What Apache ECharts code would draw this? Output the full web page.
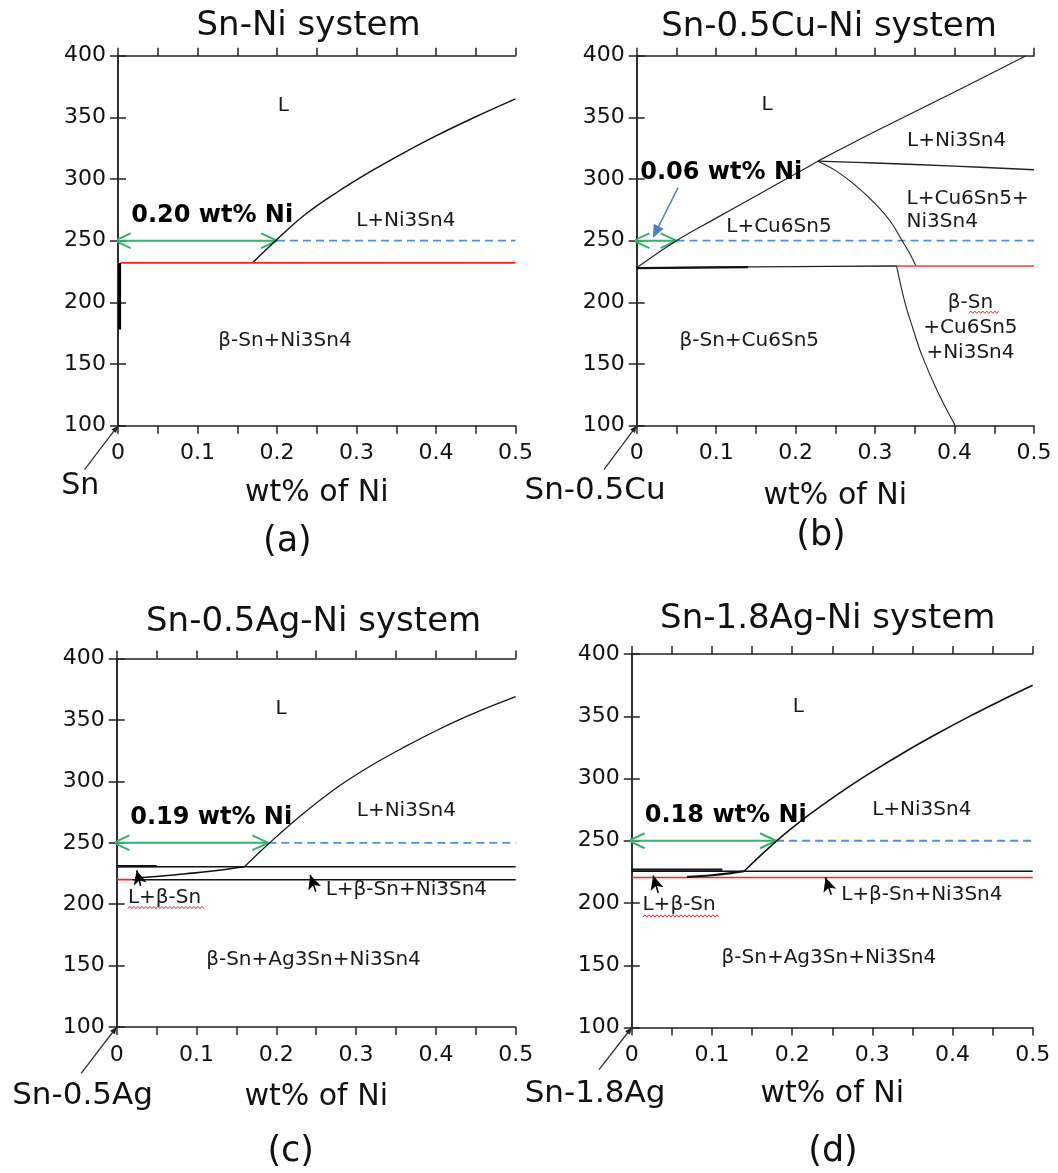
<!DOCTYPE html>
<html><head><meta charset="utf-8">
<script src="https://cdn.jsdelivr.net/npm/echarts@6/dist/echarts.min.js"></script>
<style>html,body{margin:0;padding:0;background:#fff}#c{width:1058px;height:1173px}</style>
</head><body><div id="c"></div><script>
// ---------------- DATA ----------------
const titles = ['Sn-Ni system', 'Sn-0.5Cu-Ni system', 'Sn-0.5Ag-Ni system', 'Sn-1.8Ag-Ni system'];
const baseNames = ['Sn', 'Sn-0.5Cu', 'Sn-0.5Ag', 'Sn-1.8Ag'];
const subLabels = ['(a)', '(b)', '(c)', '(d)'];
const xAxisName = 'wt% of Ni';
const xRange = [0, 0.5];
const yRange = [100, 400];
const solubility = [0.20, 0.05, 0.19, 0.18];   // where the 250 C line meets the liquidus
const solubilityText = ['0.20 wt% Ni', '0.06 wt% Ni', '0.19 wt% Ni', '0.18 wt% Ni'];
const refTemp = 250;

// (a) Sn-Ni
const aLiquidus = [[0.169,232],[0.20,251],[0.235,271],[0.276,289.5],[0.32,307],[0.36,321.5],[0.40,335],[0.45,350.5],[0.5,365]];
const aEutectic = [[0.003,232],[0.5,232]];
const aSnSolid = [[0.002,232],[0.002,178]];

// (b) Sn-0.5Cu-Ni
const bLiqCu = [[0,228],[0.05,250],[0.10,268.3],[0.15,286.3],[0.20,304.3],[0.228,314.5]];
const bLiqNi = [[0.228,314.5],[0.30,338.5],[0.40,370.5],[0.49,400]];
const bTriTop = [[0.228,314.5],[0.30,313],[0.40,310.5],[0.5,307.5]];
const bTriLeft = [[0.228,314.5],[0.25,307],[0.275,295],[0.30,280],[0.32,265],[0.335,249],[0.345,238],[0.351,230]];
const bEutBlack = [[0,227.8],[0.1,228.5],[0.2,229],[0.327,229.5]];
const bEutBlackThick = [[0,227.8],[0.14,228.6]];
const bEutRed = [[0.327,229.5],[0.5,229.5]];
const bSolvus = [[0.327,229.5],[0.3375,200],[0.348,178],[0.359,157],[0.378,128.6],[0.401,100]];
const bNoteArrow = [[0.052,293],[0.024,257]];

// (c) Sn-0.5Ag-Ni
const cLiquidus = [[0.16,230.5],[0.1925,250.5],[0.235,274.5],[0.277,295.5],[0.319,313],[0.362,328.5],[0.404,342.5],[0.446,355],[0.5,369]];
const cUpper = [[0,230.5],[0.5,230.5]];
const cUpperThick = [[0,231],[0.05,231]];
const cLowerBlack = [[0.019,220],[0.5,220]];
const cLowerRed = [[0,220],[0.019,220]];
const cSnCurve = [[0.023,221.5],[0.05,222.6],[0.087,224.8],[0.12,227],[0.16,230.5]];
const cPointers = [[[0.030,215],[0.025,227.5]], [[0.2496,210.2],[0.2424,223.8]]];

// (d) Sn-1.8Ag-Ni
const dLiquidus = [[0.14,225.5],[0.18,249.5],[0.22,270.3],[0.26,288.7],[0.30,305.5],[0.34,321.1],[0.38,335.7],[0.42,349.5],[0.46,362.5],[0.5,374.9]];
const dUpper = [[0,225.5],[0.5,225.5]];
const dUpperThick = [[0,226.8],[0.113,226.8]];
const dRed = [[0,220.5],[0.5,220.5]];
const dSnCurve = [[0.069,221],[0.1,222.3],[0.124,224],[0.14,225.5]];
const dPointers = [[[0.033,208],[0.0266,222]], [[0.2487,206.6],[0.2416,220.5]]];

// base-alloy pointer lines (outer end -> origin)
const basePointers = [[[-0.0421,64.4],[0,100]], [[-0.0412,64.4],[0,100]], [[-0.0446,62.3],[0,100]], [[-0.0409,66.2],[0,100]]];

// region labels
const aLabels = [['L',0.208,359.6],['L+Ni3Sn4',0.362,266.4],['β-Sn+Ni3Sn4',0.210,169]];
const bLabels = [['L',0.164,360.4],['L+Ni3Sn4',0.4026,330.7],['L+Cu6Sn5',0.179,261.4],['β-Sn+Cu6Sn5',0.1417,169]];
const bLeftLabels = [['L+Cu6Sn5+\nNi3Sn4',0.3396,274.5]];
const bCenterMulti = [['β-Sn\n+Cu6Sn5\n+Ni3Sn4',0.420,179.5]];
const cLabels = [['L',0.206,359.3],['L+Ni3Sn4',0.363,275.9],['L+β-Sn',0.060,205.1],['L+β-Sn+Ni3Sn4',0.363,211.7],['β-Sn+Ag3Sn+Ni3Sn4',0.2466,155.1]];
const dLabels = [['L',0.2078,357.9],['L+Ni3Sn4',0.3617,274.6],['L+β-Sn',0.059,198.5],['L+β-Sn+Ni3Sn4',0.3617,206.6],['β-Sn+Ag3Sn+Ni3Sn4',0.2458,155.8]];
const boldPos = [[0.1185,270.6],[0.1064,304.7],[0.1184,270.5],[0.1172,270.1]];
// spell-check wavy underlines [grid, x0, x1, y]
const wavy = [[1,0.418,0.4566,192],[2,0.014,0.111,197.3],[3,0.0139,0.111,189.6]];

// ---------------- STYLE / LAYOUT ----------------
const FONT = "'DejaVu Sans', Verdana, sans-serif";
const TXT = '#111';
const grids = [
  {left:118, top:55.7, width:397.5, height:370},
  {left:636.7, top:55.7, width:397.3, height:370},
  {left:116.7, top:658.6, width:399, height:368.4},
  {left:631.8, top:654, width:400.9, height:373.5}
];
const nameGaps = [53, 56, 55, 52];
const titlePos = [[308.5,26.5],[829,27.5],[313.6,622.5],[827.7,619.5]];
const basePos = [[80.3,486],[595,491],[82.5,1095.6],[595,1093.7]];
const subPos = [[287.4,542],[821,535.7],[290.7,1152],[833,1152]];

const axisLine = {lineStyle:{color:'#222', width:1.5}};
const tick = {show:true, length:8, lineStyle:{color:'#222', width:1.5}};
const xFmt = v => { const k = Math.round(v*100); if (k % 10 !== 0) return ''; return k === 0 ? '0' : (k/100).toFixed(1); };

const xAxis = [], yAxis = [];
grids.forEach((g, i) => {
  xAxis.push({gridIndex:i, type:'value', min:xRange[0], max:xRange[1], interval:0.05, position:'bottom',
    axisLine, axisTick:tick, splitLine:{show:false},
    axisLabel:{formatter:xFmt, margin:17, fontSize:22, fontFamily:FONT, color:TXT, showMinLabel:true, showMaxLabel:true},
    name:xAxisName, nameLocation:'middle', nameGap:nameGaps[i], nameTextStyle:{fontSize:30, fontFamily:FONT, color:TXT}});
  xAxis.push({gridIndex:i, type:'value', min:xRange[0], max:xRange[1], interval:0.05, position:'top',
    axisLine, axisTick:tick, splitLine:{show:false}, axisLabel:{show:false}});
  yAxis.push({gridIndex:i, type:'value', min:yRange[0], max:yRange[1], interval:50, position:'left',
    axisLine, axisTick:tick, splitLine:{show:false},
    axisLabel:{margin:12, fontSize:22, fontFamily:FONT, color:TXT, showMinLabel:true, showMaxLabel:true}});
  yAxis.push({gridIndex:i, type:'value', min:yRange[0], max:yRange[1], interval:50, position:'right',
    axisLine, axisTick:tick, splitLine:{show:false}, axisLabel:{show:false}});
});

const series = [];
function line(gi, data, color, width, extra) {
  series.push(Object.assign({type:'line', xAxisIndex:2*gi, yAxisIndex:2*gi, data, symbol:'none', showSymbol:false,
    clip:false, silent:true, animation:false, z:3,
    lineStyle:{color, width, type:'solid', cap:'butt'}}, extra || {}));
}
const curve = {smooth:0.4};
function arrows(gi, pairs, color, width, sym, size, z) {
  series.push({type:'line', xAxisIndex:2*gi, yAxisIndex:2*gi, data:[[0.25,250]], symbol:'none', showSymbol:false,
    silent:true, animation:false, lineStyle:{width:0},
    markLine:{silent:true, animation:false, symbol:['none', sym], symbolSize:size, label:{show:false},
      lineStyle:{color, width, type:'solid'}, emphasis:{disabled:true},
      data: pairs.map(p => [{coord:p[0]}, {coord:p[1]}])}, z: z || 4});
}
function labels(gi, list, extraLabel) {
  series.push({type:'scatter', xAxisIndex:2*gi, yAxisIndex:2*gi, symbolSize:1,
    itemStyle:{color:'rgba(0,0,0,0)', opacity:1},
    silent:true, animation:false, z:6,
    data: list.map(l => ({name:l[0], value:[l[1], l[2]]})),
    label: Object.assign({show:true, position:'inside', formatter:'{b}', fontSize:20, fontFamily:FONT, color:'#1a1a1a',
      opacity:1, align:'center', verticalAlign:'middle'}, extraLabel || {})});
}
// green double arrow + blue dashed reference line
const GREEN = '#35b36a', BLUE = '#4d8fe6', RED = '#ff2020';
const chevDx = 0.02, chevDy = 6;
grids.forEach((g, i) => {
  const xs = solubility[i];
  line(i, [[-0.004, refTemp],[xs, refTemp]], GREEN, 2);
  line(i, [[-0.004+chevDx, refTemp+chevDy],[-0.004, refTemp],[-0.004+chevDx, refTemp-chevDy]], GREEN, 2);
  line(i, [[xs-chevDx, refTemp+chevDy],[xs, refTemp],[xs-chevDx, refTemp-chevDy]], GREEN, 2);
  line(i, [[xs, refTemp],[xRange[1], refTemp]], BLUE, 1.8, {lineStyle:{color:BLUE, width:1.8, type:[8,5]}});
  labels(i, [[solubilityText[i], boldPos[i][0], boldPos[i][1]]], {fontSize:24, fontWeight:'bold', color:'#000'});
});
// (a)
line(0, aLiquidus, '#111', 1.4, curve);
line(0, aEutectic, RED, 1.6);
line(0, aSnSolid, '#000', 3);
labels(0, aLabels);
// (b)
line(1, bLiqCu, '#222', 1.2, curve);
line(1, bLiqNi, '#222', 1.2, curve);
line(1, bTriTop, '#222', 1.4, curve);
line(1, bTriLeft, '#222', 1.1, curve);
line(1, bEutBlack, '#222', 1.3, curve);
line(1, bEutBlackThick, '#111', 2.2);
line(1, bEutRed, '#f04040', 1.4);
line(1, bSolvus, '#222', 1.1, curve);
arrows(1, [bNoteArrow], '#4f81bd', 1.5, 'triangle', [11,13], 7);
labels(1, bLabels);
labels(1, bLeftLabels, {align:'left', lineHeight:23});
labels(1, bCenterMulti, {lineHeight:25});
// (c)
line(2, cLiquidus, '#111', 1.2, curve);
line(2, cUpper, '#111', 1.5);
line(2, cUpperThick, '#111', 2.2);
line(2, cLowerBlack, '#111', 1.5);
line(2, cLowerRed, RED, 1.6);
line(2, cSnCurve, '#111', 1.6, curve);
arrows(2, cPointers, '#000', 1.6, 'arrow', [10,14]);
labels(2, cLabels);
// (d)
line(3, dLiquidus, '#111', 1.6, curve);
line(3, dUpper, '#111', 1.5);
line(3, dUpperThick, '#111', 2.2);
line(3, dRed, RED, 1.6);
line(3, dSnCurve, '#111', 2.2, curve);
arrows(3, dPointers, '#000', 1.6, 'arrow', [10,14]);
labels(3, dLabels);

const chart = echarts.init(document.getElementById('c'), null, {renderer:'canvas'});
chart.setOption({
  animation:false, backgroundColor:'#fff',
  grid: grids.map(g => Object.assign({containLabel:false, show:false}, g)),
  xAxis, yAxis, series
});

// text elements, base pointers and spell-check squiggles
const graphic = [];
function txt(s, p, size, weight) {
  graphic.push({type:'text', x:p[0], y:p[1], silent:true, z:10,
    style:{text:s, fontSize:size, fontFamily:FONT, fontWeight:weight||'normal', fill:TXT,
      align:'center', verticalAlign:'middle', textAlign:'center', textVerticalAlign:'middle'}});
}
titles.forEach((t,i) => txt(t, titlePos[i], 34));
baseNames.forEach((t,i) => txt(t, basePos[i], i === 0 ? 30 : 31));
subLabels.forEach((t,i) => txt(t, subPos[i], 35));
basePointers.forEach((bp, i) => {
  const p0 = chart.convertToPixel({gridIndex:i}, bp[0]);
  const p1 = chart.convertToPixel({gridIndex:i}, bp[1]);
  const dx = p1[0]-p0[0], dy = p1[1]-p0[1], L = Math.hypot(dx, dy), ux = dx/L, uy = dy/L;
  graphic.push({type:'line', silent:true, z:9, shape:{x1:p0[0], y1:p0[1], x2:p1[0], y2:p1[1]},
    style:{stroke:'#333', lineWidth:1.3}});
  const hl = 7, hw = 3;
  graphic.push({type:'polygon', silent:true, z:9, shape:{points:[
    [p1[0], p1[1]],
    [p1[0]-ux*hl - uy*hw, p1[1]-uy*hl + ux*hw],
    [p1[0]-ux*hl + uy*hw, p1[1]-uy*hl - ux*hw]]}, style:{fill:'#222'}});
});
wavy.forEach(w => {
  const p0 = chart.convertToPixel({gridIndex:w[0]}, [w[1], w[3]]);
  const p1 = chart.convertToPixel({gridIndex:w[0]}, [w[2], w[3]]);
  const pts = [];
  let k = 0;
  for (let x = p0[0]; x <= p1[0]; x += 2, k++) pts.push([x, p0[1] + (k % 2 ? -1.2 : 1.2)]);
  graphic.push({type:'polyline', silent:true, z:10, shape:{points:pts}, style:{stroke:'#e53030', lineWidth:1, fill:null}});
});
chart.setOption({graphic});
</script></body></html>
